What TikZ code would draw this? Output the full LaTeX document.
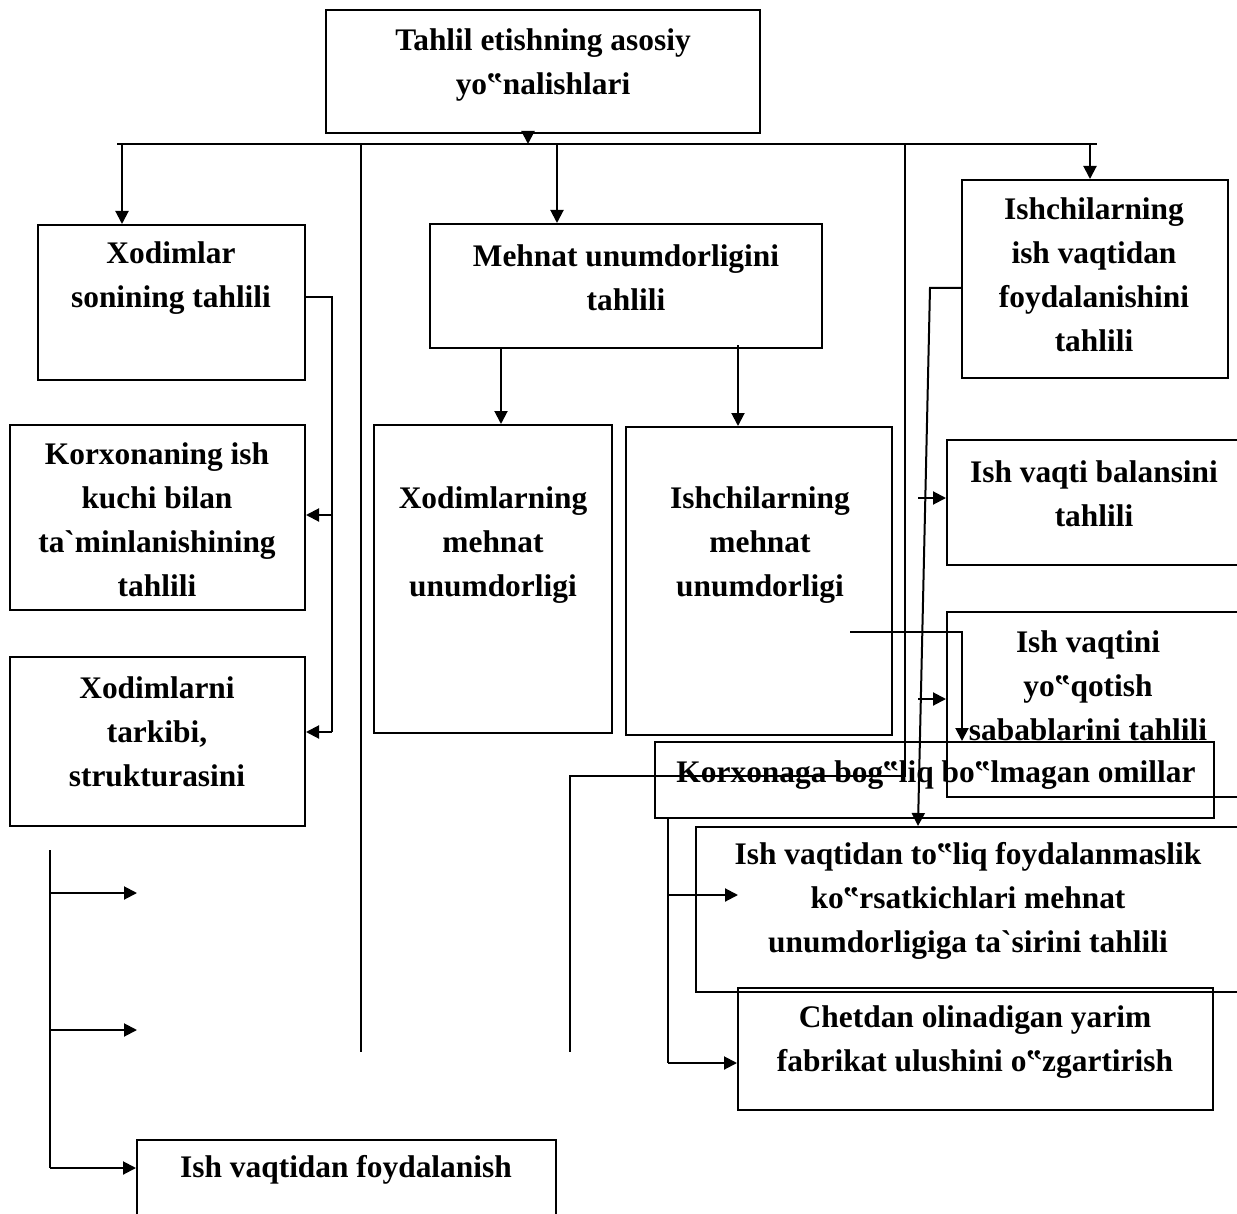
\documentclass[tikz,border=0pt]{standalone}
\usepackage{fontspec}
\setmainfont{Liberation Serif}
\usepackage{tikz}
\usetikzlibrary{arrows.meta,positioning}
\tikzset{box/.style={draw,line width=1pt,fill=none,inner sep=0pt}}
\tikzset{txt/.style={align=center,inner sep=0pt,
                     font=\fontsize{15.7pt}{22pt}\selectfont\bfseries}}

\begin{document}
\begin{tikzpicture}[x=0.5pt,y=-0.5pt,
    >={Triangle[length=6.5pt,width=6.5pt]},
    line width=1pt
  ]
    \useasboundingbox (0,0) rectangle (1237,1214);

    % boxes (pixel grid of the scheme)
    \node[box,minimum width=217pt,minimum height=61.5pt](top) at (543,71.5) {};
    \node[txt](top-t) at (543,65) {Tahlil etishning asosiy\\yo‟nalishlari};

    \node[box,minimum width=133.5pt,minimum height=77.5pt](xs) at (171.5,302.5) {};
    \node[txt](xs-t) at (171,278) {Xodimlar\\sonining tahlili};

    \node[box,minimum width=196pt,minimum height=62pt](mu) at (626,286) {};
    \node[txt](mu-t) at (626,278) {Mehnat unumdorligini\\tahlili};

    \node[box,minimum width=133pt,minimum height=99pt](iv) at (1095,279) {};
    \node[txt](iv-t) at (1094,275) {Ishchilarning\\ish vaqtidan\\foydalanishini\\tahlili};

    \node[box,minimum width=147.5pt,minimum height=92.5pt](kt) at (157.5,517.5) {};
    \node[txt](kt-t) at (157,520) {Korxonaning ish\\kuchi bilan\\ta\textasciigrave minlanishining\\tahlili};

    \node[box,minimum width=147.5pt,minimum height=84.5pt](xt) at (157.5,741.5) {};
    \node[txt](xt-t) at (157,732) {Xodimlarni\\tarkibi,\\strukturasini};

    \node[box,minimum width=119pt,minimum height=154pt](xm) at (493,579) {};
    \node[txt](xm-t) at (493,545) {Xodimlarning\\mehnat\\unumdorligi};

    \node[box,minimum width=133pt,minimum height=154pt](im) at (759,581) {};
    \node[txt](im-t) at (760,545) {Ishchilarning\\mehnat\\unumdorligi};

    \node[box,minimum width=149pt,minimum height=62.5pt](vb) at (1096,502.5) {};
    \node[txt](vb-t) at (1094,494) {Ish vaqti balansini\\tahlili};

    \node[box,minimum width=149pt,minimum height=92.5pt](vy) at (1096,704.5) {};
    \node[txt](vy-t) at (1088,686) {Ish vaqtini\\yo‟qotish\\sabablarini tahlili};

    \node[box,minimum width=279.5pt,minimum height=38pt](ko) at (934.5,780) {};
    \node[txt](ko-t) at (936,775) {Korxonaga bog‟liq bo‟lmagan omillar};

    \node[box,minimum width=274.5pt,minimum height=82.5pt](tf) at (970.5,909.5) {};
    \node[txt](tf-t) at (968,901) {Ish vaqtidan to‟liq foydalanmaslik\\ko‟rsatkichlari mehnat\\unumdorligiga ta\textasciigrave sirini tahlili};

    \node[box,minimum width=237.5pt,minimum height=61pt](ch) at (975.5,1049) {};
    \node[txt](ch-t) at (975,1042) {Chetdan olinadigan yarim\\fabrikat ulushini o‟zgartirish};

    \node[box,minimum width=209.5pt,minimum height=42.5pt](fo) at (346.5,1182.5) {};
    \node[txt](fo-t) at (346,1170) {Ish vaqtidan foydalanish};

    % bus under the title
    \coordinate (bus-l) at (117,144);
    \coordinate (bus-r) at (1097,144);
    \coordinate (d1) at (122,144);
    \coordinate (d2) at (557,144);
    \coordinate (d3) at (1090,144);
    \coordinate (v1) at (361,144);
    \coordinate (v1e) at (361,1052);
    \coordinate (v2) at (905,144);
    \coordinate (v2a) at (905,776);
    \coordinate (v2b) at (570,776);
    \coordinate (v2e) at (570,1052);

    \draw[->] ([xshift=-7.5pt]top.south) -- ([xshift=-7.5pt]top.south |- bus-l);
    \draw (bus-l) -- (bus-r);
    \draw[->] (d1) -- (d1 |- xs.north);
    \draw[->] (d2) -- (d2 |- mu.north);
    \draw[->] (d3) -- (d3 |- iv.north);
    \draw (v1) -- (v1e);
    \draw (v2) -- (v2a) -- (v2b) -- (v2e);

    % middle block
    \coordinate (a1) at (501,348);
    \coordinate (a2) at (738,345);
    \draw[->] (a1) -- (a1 |- xm.north);
    \draw[->] (a2) -- (a2 |- im.north);

    % left column
    \coordinate (k0) at (332,297);
    \coordinate (k1) at (332,515);
    \coordinate (k2) at (332,732);
    \draw (xs.east |- k0) -- (k0) -- (k2);
    \draw[->] (k1) -- (k1 -| kt.east);
    \draw[->] (k2) -- (k2 -| xt.east);

    \coordinate (l0) at (50,850);
    \coordinate (l1) at (50,893);
    \coordinate (l2) at (50,1030);
    \coordinate (l3) at (50,1168);
    \coordinate (e1) at (137,893);
    \coordinate (e2) at (137,1030);
    \draw (l0) -- (l3);
    \draw[->] (l1) -- (e1);
    \draw[->] (l2) -- (e2);
    \draw[->] (l3) -- (l3 -| fo.west);

    % right column
    \coordinate (s0) at (930,288);
    \coordinate (s1) at (918,0);
    \draw[->] (iv.west |- s0) -- (s0) -- (s1 |- tf.north);
    \coordinate (r1) at (918,498);
    \coordinate (r2) at (918,699);
    \draw[->] (r1) -- (r1 -| vb.west);
    \draw[->] (r2) -- (r2 -| vy.west);

    \coordinate (m1) at (850,632);
    \coordinate (m2) at (962,632);
    \draw[->] (m1) -- (m2) -- (m2 |- ko.north);

    \coordinate (b0) at (668,819);
    \coordinate (b1) at (668,895);
    \coordinate (b2) at (668,1063);
    \coordinate (e3) at (738,895);
    \draw (b0) -- (b2);
    \draw[->] (b1) -- (e3);
    \draw[->] (b2) -- (b2 -| ch.west);
  \end{tikzpicture}
\end{document}
